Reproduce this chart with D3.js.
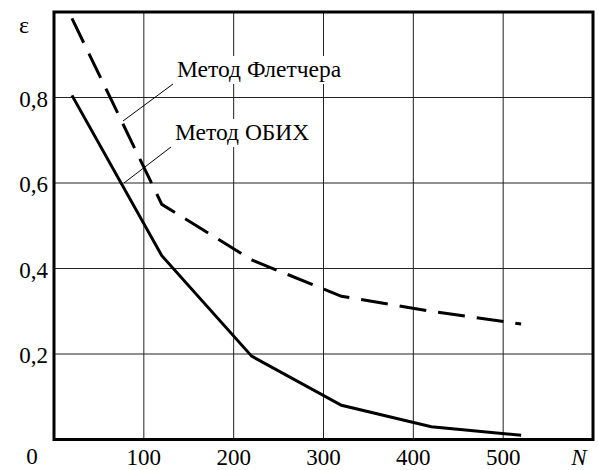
<!DOCTYPE html>
<html>
<head>
<meta charset="utf-8">
<script src="https://cdn.jsdelivr.net/npm/d3@7"></script>
<style>
  body { margin: 0; background: white; }
</style>
</head>
<body>
<svg id="chart" width="598" height="470"></svg>
<script>
// data
var nValues = [20, 120, 220, 320, 420, 520]
var fletcher = [0.985, 0.55, 0.42, 0.335, 0.30, 0.27]
var obih = [0.805, 0.43, 0.195, 0.08, 0.03, 0.01]
var xTicks = [100, 200, 300, 400, 500]
var yTicks = [0.2, 0.4, 0.6, 0.8]
var yTickLabels = ['0,2', '0,4', '0,6', '0,8']
var seriesNames = ['Метод Флетчера', 'Метод ОБИХ']

var serif = 'Liberation Serif'
var svg = d3.select('#chart')
var xScale = d3.scaleLinear().domain([0, 600]).range([54, 593])
var yScale = d3.scaleLinear().domain([0, 1]).range([439.5, 12])

// grid
svg.append('g').selectAll('line').data(xTicks).enter().append('line')
    .attr('x1', function(d) { return xScale(d) }).attr('x2', function(d) { return xScale(d) })
    .attr('y1', yScale(1)).attr('y2', yScale(0))
    .style('stroke', '#222').style('stroke-width', 1)
svg.append('g').selectAll('line').data(yTicks).enter().append('line')
    .attr('x1', xScale(0)).attr('x2', xScale(600))
    .attr('y1', function(d) { return yScale(d) }).attr('y2', function(d) { return yScale(d) })
    .style('stroke', '#222').style('stroke-width', 1)

// labels with leader lines (white box behind the text)
var labels = [
    {text: seriesNames[0], x: 177, y: 77, lx: 123, ly: 121},
    {text: seriesNames[1], x: 175, y: 140, lx: 124, ly: 183}
]
labels.forEach(function(l) {
    var t = svg.append('text')
        .attr('x', l.x).attr('y', l.y)
        .style('font-family', serif).style('font-size', '23.5px')
        .text(l.text)
    var bb = t.node().getBBox()
    svg.insert('rect', 'text')
        .attr('x', bb.x - 2).attr('y', bb.y).attr('width', bb.width + 4).attr('height', bb.height + 2)
        .style('fill', 'white')
    svg.append('line')
        .attr('x1', l.x - 4).attr('y1', l.y + 7)
        .attr('x2', l.lx).attr('y2', l.ly)
        .style('stroke', 'black').style('stroke-width', 1)
})

var line = d3.line()
    .x(function(d) { return xScale(d[0]) })
    .y(function(d) { return yScale(d[1]) })

svg.append('path')
    .attr('d', line(d3.zip(nValues, fletcher)))
    .style('fill', 'none').style('stroke', 'black').style('stroke-width', 3)
    .style('stroke-dasharray', '27,12')
svg.append('path')
    .attr('d', line(d3.zip(nValues, obih)))
    .style('fill', 'none').style('stroke', 'black').style('stroke-width', 3)

// frame
svg.append('rect')
    .attr('x', xScale(0)).attr('y', yScale(1))
    .attr('width', xScale(600) - xScale(0)).attr('height', yScale(0) - yScale(1))
    .style('fill', 'none').style('stroke', 'black').style('stroke-width', 3)

// tick labels
svg.append('g').selectAll('text').data(xTicks).enter().append('text')
    .attr('x', function(d) { return xScale(d) }).attr('y', 465)
    .style('text-anchor', 'middle').style('font-family', serif).style('font-size', '23px')
    .text(function(d) { return d })
svg.append('g').selectAll('text').data(yTicks).enter().append('text')
    .attr('x', 48).attr('y', function(d) { return yScale(d) + 9 })
    .style('text-anchor', 'end').style('font-family', serif).style('font-size', '23px')
    .text(function(d, i) { return yTickLabels[i] })
svg.append('text').attr('x', 32).attr('y', 464)
    .style('text-anchor', 'middle').style('font-family', serif).style('font-size', '23px').text('0')
svg.append('text').attr('x', 24).attr('y', 33)
    .style('text-anchor', 'middle').style('font-family', serif).style('font-size', '24px').text('ε')
svg.append('text').attr('x', 579).attr('y', 465)
    .style('text-anchor', 'middle').style('font-family', serif).style('font-size', '23px')
    .style('font-style', 'italic').text('N')
</script>
</body>
</html>
